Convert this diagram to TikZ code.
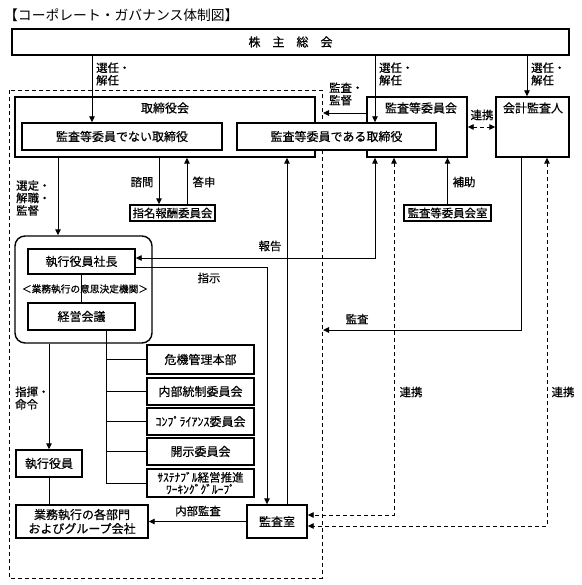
\documentclass[tikz,border=0pt]{standalone}
\usepackage{fontspec}
\newfontfamily\jpfont{Noto Sans CJK JP}[FakeBold=0.5]
\newfontfamily\jptitle{Noto Sans CJK JP}
\usetikzlibrary{arrows.meta}

\begin{document}
\begin{tikzpicture}[x=1pt,y=-1pt,>={Triangle[length=6pt,width=5.5pt]},
		font=\jpfont\fontsize{12}{14}\selectfont,
		box/.style={draw,line width=1.4pt,fill=white,inner sep=0pt},
		sbox/.style={box,font=\jpfont\fontsize{11.4}{13}\selectfont},
		lbl/.style={inner sep=0pt,align=left,font=\jpfont\fontsize{11.4}{12.5}\selectfont},
		ln/.style={line width=0.9pt},
		dsh/.style={line width=0.9pt,dash pattern=on 4pt off 3pt}]
	\useasboundingbox (0,0) rectangle (581,585);
	% execution side frame
	\draw[dsh] (9,90) rectangle (322,578);
	\node[anchor=west,inner sep=0pt,font=\jptitle\fontsize{13.8}{15}\selectfont] (title) at (4,15) {【コーポレート・ガバナンス体制図】};
	\node[box,minimum width=557pt,minimum height=26pt] (meeting) at (290.5,42) {株\hspace{12pt}主\hspace{12pt}総\hspace{12pt}会};

	% board and auditors
	\node[box,minimum width=300pt,minimum height=60pt] (board) at (165,127) {};
	\node[inner sep=0pt] (boardTitle) at (165,108) {取締役会};
	\node[box,minimum width=100pt,minimum height=60pt] (auditCom) at (417,127) {};
	\node[inner sep=0pt] (auditComTitle) at (421,108) {監査等委員会};
	\node[box,minimum width=200pt,minimum height=27pt] (nonAudit) at (122,136.5) {監査等委員でない取締役};
	\node[box,minimum width=199pt,minimum height=27pt] (auditDir) at (336.5,136.5) {監査等委員である取締役};
	\node[box,minimum width=73pt,minimum height=60pt] (accountant) at (532.5,127) {};
	\node[inner sep=0pt] (accountantTitle) at (533,108) {会計監査人};
	\node[sbox,minimum width=85pt,minimum height=16pt] (nomCom) at (172.5,213) {指名報酬委員会};
	\node[sbox,minimum width=87pt,minimum height=16pt] (auditStaff) at (447.5,213) {監査等委員会室};

	% executive side
	\node[draw,line width=1.4pt,rounded corners=10pt,minimum width=137pt,minimum height=107pt] (execGroup) at (83.5,289.5) {};
	\node[box,minimum width=107pt,minimum height=25pt] (president) at (81.5,261.5) {執行役員社長};
	\node[box,minimum width=107pt,minimum height=27pt] (mgmt) at (81.5,316.5) {経営会議};
	\draw[ln] (president) -- (mgmt);
	\node[inner sep=0pt,font=\jpfont\fontsize{9.7}{11}\selectfont] (organ) at (85,289) {＜業務執行の意思決定機関＞};
	\node[box,minimum width=66pt,minimum height=27pt] (officer) at (49,463.5) {執行役員};
	\node[box,minimum width=132pt,minimum height=33pt,align=center] (depts) at (82,521.5) {業務執行の各部門\\およびグループ会社};
	\node[box,minimum width=60pt,minimum height=33pt] (auditRoom) at (277,521.5) {監査室};

	% committees
	\node[box,minimum width=107pt,minimum height=29pt] (crisis) at (200.5,359.5) {危機管理本部};
	\node[box,minimum width=107pt,minimum height=27pt] (internal) at (200.5,391.5) {内部統制委員会};
	\node[box,minimum width=107pt,minimum height=27pt] (compliance) at (200.5,421.5) {ｺﾝﾌﾟﾗｲｱﾝｽ委員会};
	\node[box,minimum width=107pt,minimum height=27pt] (disclosure) at (200.5,451.5) {開示委員会};
	\node[box,minimum width=107pt,minimum height=28pt,align=center,font=\jpfont\fontsize{11.5}{12}\selectfont] (sustain) at (200.5,483) {ｻｽﾃﾅﾌﾞﾙ経営推進\\ﾜｰｷﾝｸﾞｸﾞﾙｰﾌﾟ};
	\coordinate (trunk) at ([xshift=24.5pt]mgmt.south);
	\draw[ln] (trunk) |- (sustain.west);
	\foreach \c in {crisis,internal,compliance,disclosure}
		\draw[ln] (\c.west) -- (\c.west -| trunk);

	% shareholders
	\coordinate (elect1) at ([xshift=-30pt]nonAudit.north);
	\coordinate (elect2) at ([xshift=38.5pt]auditDir.north);
	\coordinate (elect3) at ([xshift=-5.5pt]accountant.north);
	\foreach \e in {elect1,elect2,elect3}
		\draw[ln,->] (\e |- meeting.south) -- (\e);
	\node[lbl,anchor=west] (electLbl1) at (96,74) {選任・\\解任};
	\node[lbl,anchor=west] (electLbl2) at (379,74) {選任・\\解任};
	\node[lbl,anchor=west] (electLbl3) at (531,74) {選任・\\解任};

	% audit committee
	\coordinate (superv) at (323,113);
	\draw[ln,->] (auditCom.west |- superv) -- (superv);
	\node[lbl,anchor=west] (supervLbl) at (329,94) {監査・\\監督};
	\draw[dsh,<->] (auditCom.east) -- (accountant.west);
	\node[lbl] (liaisonLbl1) at (482,115) {連携};
	\draw[ln,->] (auditStaff.north) -- (auditStaff.north |- auditCom.south);
	\node[lbl] (assistLbl) at (464,182) {補助};

	% board to executive side
	\coordinate (select) at ([xshift=-107pt]board.south);
	\draw[ln,->] (select) -- (select |- execGroup.north);
	\node[lbl,anchor=west] (selectLbl) at (16,198) {選定・\\解職・\\監督};
	\coordinate (consult) at ([xshift=-13.5pt]nomCom.north);
	\coordinate (answer) at ([xshift=14.5pt]nomCom.north);
	\draw[ln,->] (consult |- board.south) -- (consult);
	\draw[ln,->] (answer) -- (answer |- board.south);
	\node[lbl] (consultLbl) at (142,182) {諮問};
	\node[lbl] (answerLbl) at (204,182) {答申};

	% report and instruction
	\draw[ln,<->] ([yshift=3.5pt]president.east) -| ([xshift=-42pt]auditCom.south);
	\node[lbl] (reportLbl) at (270,246) {報告};
	\coordinate (reportUp) at ([xshift=10pt]auditRoom.north);
	\draw[ln,->] (reportUp) -- (reportUp |- board.south);
	\draw[ln,->] ([yshift=-5.5pt]president.east) -| ([xshift=-10pt]auditRoom.north);
	\node[lbl] (instrLbl) at (209,278) {指示};

	% accounting auditor
	\coordinate (accAudit) at (323,330);
	\draw[ln,->] ([xshift=-11.5pt]accountant.south) |- (accAudit);
	\node[lbl] (accAuditLbl) at (357,319) {監査};
	\draw[dsh,<->] ([xshift=-23pt]auditCom.south) |- ([yshift=6.5pt]auditRoom.east);
	\draw[dsh,<->] ([xshift=14.5pt]accountant.south) |- ([yshift=-4.5pt]auditRoom.east);
	\node[lbl] (liaisonLbl2) at (411,392) {連携};
	\node[lbl] (liaisonLbl3) at (563,392) {連携};

	% execution
	\draw[ln,->] (execGroup.south -| officer.north) -- (officer.north);
	\node[lbl,anchor=west] (commandLbl) at (15,398) {指揮・\\命令};
	\draw[ln] (officer) -- (depts.north -| officer);
	\draw[ln,->] (auditRoom.west) -- (auditRoom.west -| depts.east);
	\node[lbl] (internalLbl) at (198,511) {内部監査};
\end{tikzpicture}
\end{document}
